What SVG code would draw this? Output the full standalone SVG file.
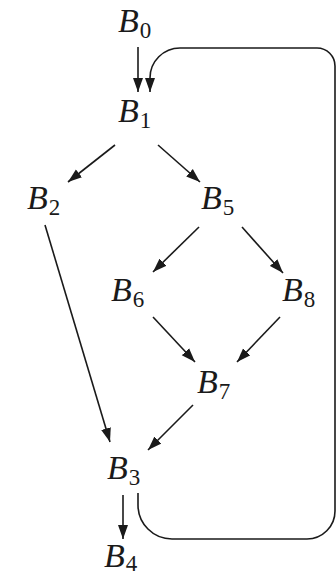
<svg xmlns="http://www.w3.org/2000/svg" width="336" height="576" viewBox="0 0 336 576">
<style>
.lbl{font-family:"Liberation Serif","Times New Roman",serif;font-style:italic;font-size:34px;fill:#1a1a1a}
.sub{font-style:normal;font-size:23px}
.edge{fill:none;stroke:#1a1a1a;stroke-width:1.6}
</style>
<defs>
<marker id="ah" markerUnits="userSpaceOnUse" markerWidth="15" markerHeight="11" refX="14" refY="5.5" orient="auto">
<path d="M0,0.5 L14,5.5 L0,10.5 Z" fill="#1a1a1a"/>
</marker>
</defs>
<rect width="336" height="576" fill="#ffffff"/>
<g id="connectors">
<path class="edge" marker-end="url(#ah)" d="M138,47 L138,92"/>
<path class="edge" marker-end="url(#ah)" d="M138,493 L138,505 A34,34 0 0 0 172,539 L307,539 A28,28 0 0 0 335,511 L335,66 A18,18 0 0 0 317,48 L180,48 A30,30 0 0 0 150,78 L150,92"/>
<path class="edge" marker-end="url(#ah)" d="M115,145 L68,182"/>
<path class="edge" marker-end="url(#ah)" d="M158,145 L200,182"/>
<path class="edge" marker-end="url(#ah)" d="M45,225 L110,442"/>
<path class="edge" marker-end="url(#ah)" d="M199,227 L153,272"/>
<path class="edge" marker-end="url(#ah)" d="M242,227 L283,273"/>
<path class="edge" marker-end="url(#ah)" d="M153,317 L195,362"/>
<path class="edge" marker-end="url(#ah)" d="M280,317 L237,362"/>
<path class="edge" marker-end="url(#ah)" d="M193,405 L148,450"/>
<path class="edge" marker-end="url(#ah)" d="M123,495 L123,539"/>
</g>
<g id="B0"><text class="lbl" x="118" y="32">B<tspan class="sub" dx="1" dy="6">0</tspan></text></g>
<g id="B1"><text class="lbl" x="118" y="122">B<tspan class="sub" dx="1" dy="6">1</tspan></text></g>
<g id="B2"><text class="lbl" x="27" y="209">B<tspan class="sub" dx="1" dy="6">2</tspan></text></g>
<g id="B5"><text class="lbl" x="201" y="209">B<tspan class="sub" dx="1" dy="6">5</tspan></text></g>
<g id="B6"><text class="lbl" x="111" y="301">B<tspan class="sub" dx="1" dy="6">6</tspan></text></g>
<g id="B8"><text class="lbl" x="282" y="301">B<tspan class="sub" dx="1" dy="6">8</tspan></text></g>
<g id="B7"><text class="lbl" x="197" y="393">B<tspan class="sub" dx="1" dy="6">7</tspan></text></g>
<g id="B3"><text class="lbl" x="107" y="479">B<tspan class="sub" dx="1" dy="6">3</tspan></text></g>
<g id="B4"><text class="lbl" x="104" y="567">B<tspan class="sub" dx="1" dy="4">4</tspan></text></g>
</svg>
